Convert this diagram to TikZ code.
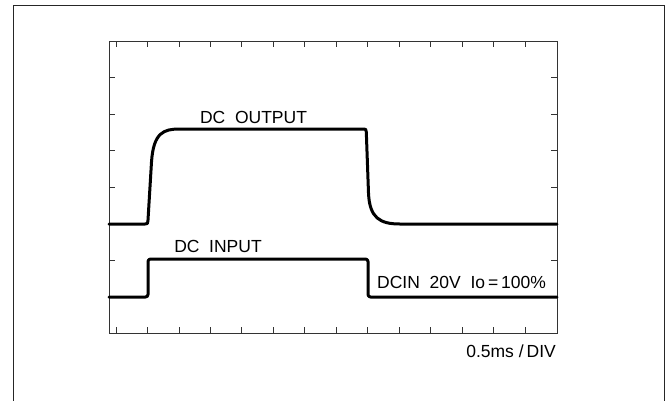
\documentclass[tikz,border=0pt]{standalone}
\usepackage{fontspec}
\setmainfont{Liberation Sans}
\begin{document}
\begin{tikzpicture}[x=1pt,y=-1pt,
  frameline/.style={line width=1pt,black!85},
  plotframe/.style={line width=0.9pt,black!80},
  tickline/.style={line width=0.8pt,black!80},
  wave/.style={line width=3pt,black,line join=round,line cap=round},
  lbl/.style={font=\fontsize{17.5}{20}\selectfont,inner sep=0pt}]
\useasboundingbox (0,0) rectangle (670,400);
% outer frame
\draw[frameline] (13,401) -- (13,5) -- (664,5) -- (664,401);
% plot frame
\coordinate (pTL) at (109,41);
\coordinate (pBR) at (557,333);
\draw[plotframe] (pTL) rectangle (pBR);
% ticks
\foreach \k in {0,...,13} {
  \pgfmathsetmacro{\xx}{116+31.46*\k}
  \draw[tickline] (\xx,41) -- (\xx,47);
  \draw[tickline] (\xx,333) -- (\xx,327);
}
\foreach \k in {1,...,7} {
  \pgfmathsetmacro{\yy}{41+36.5*\k}
  \draw[tickline] (109,\yy) -- (115,\yy);
  \draw[tickline] (557,\yy) -- (551,\yy);
}
% DC output waveform
\draw[wave] (109,224) -- (145,224) .. controls (147.5,224) .. (148,220)
  -- (151.5,162) .. controls (153.5,132) and (164,129) .. (180,129)
  -- (363,129) .. controls (366,129) .. (366.3,132)
  -- (368.5,193) .. controls (369.5,218) and (380,224) .. (400,224)
  -- (557,224);
% DC input waveform
\draw[wave,rounded corners=2.5pt] (109,297) -- (148,297) -- (148,259)
  -- (368,259) -- (368,297) -- (557,297);
% labels
\node[lbl] (outlbl) at (253.5,117) {DC\ \ OUTPUT};
\node[lbl] (inlbl) at (218,246.5) {DC\ \ INPUT};
\node[lbl,anchor=west] (cond) at (377,282) {DCIN\ \ 20V\ \ Io\,=\,100\%};
\node[lbl,anchor=east] (scale) at (556,351.5) {0.5ms\;/\,DIV};
\end{tikzpicture}
\end{document}
